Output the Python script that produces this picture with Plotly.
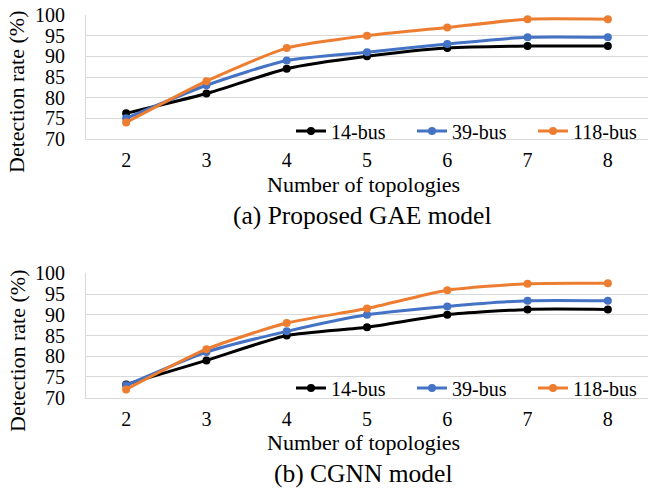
import plotly.graph_objects as go

topologies = ["2", "3", "4", "5", "6", "7", "8"]
series_names = ["14-bus", "39-bus", "118-bus"]
colors = ["#000000", "#4472C4", "#ED7D31"]

gae_14 = [76.2, 81.0, 87.0, 90.0, 92.0, 92.5, 92.5]
gae_39 = [75.0, 83.0, 89.0, 91.0, 93.0, 94.6, 94.6]
gae_118 = [74.0, 84.0, 92.0, 95.0, 97.0, 99.0, 99.0]

cgnn_14 = [73.2, 79.0, 85.0, 87.0, 90.0, 91.3, 91.3]
cgnn_39 = [73.0, 81.0, 86.0, 90.0, 92.0, 93.4, 93.4]
cgnn_118 = [72.0, 81.7, 88.0, 91.5, 95.9, 97.5, 97.6]

y_ticks = [70, 75, 80, 85, 90, 95, 100]
captions = ["(a) Proposed GAE model", "(b) CGNN model"]
x_title = "Number of topologies"
y_title = "Detection rate (%)"

W, H = 649, 489
FONT = "Liberation Serif"
GRID = "#d9d9d9"

fig = go.Figure()

panels = [
    (gae_14, gae_39, gae_118, "x", "y", "legend"),
    (cgnn_14, cgnn_39, cgnn_118, "x2", "y2", "legend2"),
]
for vals, xa, ya, lg in [(p[0:3], p[3], p[4], p[5]) for p in panels]:
    for name, v, c in zip(series_names, vals, colors):
        fig.add_trace(go.Scatter(
            x=topologies, y=v, name=name, mode="lines+markers",
            line=dict(color=c, width=3, shape="spline", smoothing=0.6),
            marker=dict(color=c, size=8),
            xaxis=xa, yaxis=ya, legend=lg,
        ))

def px_x(x):
    return x / W

def px_y(y):
    return 1 - y / H

x_dom = [px_x(86), px_x(648)]
top_dom = [px_y(139), px_y(15)]
bot_dom = [px_y(397.7), px_y(273.3)]

axis_font = dict(family=FONT, size=20, color="black")
common_x = dict(
    type="category", range=[-0.5, 6.5], domain=x_dom, automargin=False,
    showgrid=False, showline=True, linecolor=GRID, linewidth=1,
    ticks="", tickfont=axis_font, ticklabelstandoff=3, fixedrange=True,
)
common_y = dict(
    range=[70, 100], tickvals=y_ticks, showgrid=True, gridcolor=GRID,
    gridwidth=1, showline=True, linecolor=GRID, linewidth=1, zeroline=False,
    automargin=False,
    ticks="", tickfont=axis_font, ticklabelstandoff=16, fixedrange=True,
)

legend_common = dict(
    orientation="h", xanchor="left", yanchor="middle",
    font=dict(family=FONT, size=20, color="black"),
    bgcolor="rgba(0,0,0,0)", entrywidth=76, tracegroupgap=0,
    itemclick=False, itemdoubleclick=False,
)

fig.update_layout(
    width=W, height=H,
    margin=dict(l=0, r=0, t=0, b=0, autoexpand=False),
    paper_bgcolor="white", plot_bgcolor="white",
    font=dict(family=FONT, color="black"),
    xaxis=dict(common_x, anchor="y"),
    yaxis=dict(common_y, domain=top_dom, anchor="x"),
    xaxis2=dict(common_x, anchor="y2"),
    yaxis2=dict(common_y, domain=bot_dom, anchor="x2"),
    legend=dict(legend_common, x=px_x(291), y=px_y(131)),
    legend2=dict(legend_common, x=px_x(291), y=px_y(388)),
)

annotations = []
for cap, yt_c, xt_c, cap_c in [
    (captions[0], 92, 184, 215),
    (captions[1], 351, 442, 473),
]:
    annotations.append(dict(text=y_title, x=px_x(17), y=px_y(yt_c), xref="paper", yref="paper",
                            textangle=-90, showarrow=False, xanchor="center", yanchor="middle",
                            font=dict(family=FONT, size=22, color="black")))
    annotations.append(dict(text=x_title, x=px_x(363.5), y=px_y(xt_c), xref="paper", yref="paper",
                            showarrow=False, xanchor="center", yanchor="middle",
                            font=dict(family=FONT, size=22, color="black")))
    annotations.append(dict(text=cap, x=px_x(363), y=px_y(cap_c), xref="paper", yref="paper",
                            showarrow=False, xanchor="center", yanchor="middle",
                            font=dict(family=FONT, size=25.5, color="black")))
fig.update_layout(annotations=annotations)

fig.write_html("out.html")
